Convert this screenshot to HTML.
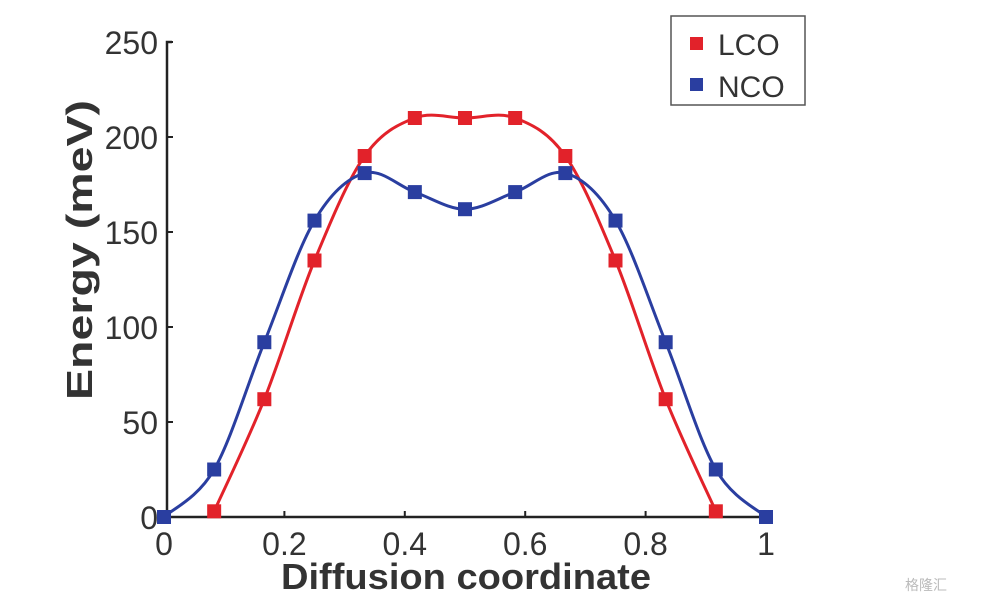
<!DOCTYPE html>
<html><head><meta charset="utf-8"><style>
body{margin:0;background:#fff;}
svg text{font-family:"Liberation Sans",Arial,sans-serif;}
</style></head><body>
<svg width="983" height="604" viewBox="0 0 983 604">
<g id="plot"></g>
<text x="92" y="250" transform="rotate(-90 92 250)" text-anchor="middle" font-size="36" font-weight="bold" fill="#333" textLength="300" lengthAdjust="spacingAndGlyphs">Energy (meV)</text>
<text x="466" y="589" text-anchor="middle" font-size="36" font-weight="bold" fill="#333" textLength="370" lengthAdjust="spacingAndGlyphs">Diffusion coordinate</text>
<g>
<rect x="671" y="16" width="134" height="89" fill="#fff" stroke="#555" stroke-width="1.5"/>
<rect x="690" y="37" width="13" height="13" fill="#e2222a"/>
<text x="718" y="55" font-size="30" fill="#333">LCO</text>
<rect x="690" y="78" width="13" height="13" fill="#2a3ea0"/>
<text x="718" y="97" font-size="30" fill="#333">NCO</text>
</g>
<text x="905" y="590" font-size="14" fill="#bbb">格隆汇</text>
</svg>
<script>
const xTicks=[0,0.2,0.4,0.6,0.8,1];
const xTickLabels=["0","0.2","0.4","0.6","0.8","1"];
const yTicks=[0,50,100,150,200,250];
const yTickLabels=["0","50","100","150","200","250"];
const lcoX=[1/12,2/12,3/12,4/12,5/12,6/12,7/12,8/12,9/12,10/12,11/12];
const lcoY=[3,62,135,190,210,210,210,190,135,62,3];
const ncoX=[0,1/12,2/12,3/12,4/12,5/12,6/12,7/12,8/12,9/12,10/12,11/12,1];
const ncoY=[0,25,92,156,181,171,162,171,181,156,92,25,0];
const X0=164,XS=602,Y0=517,YS=475/250;
const sx=v=>X0+v*XS, sy=v=>Y0-v*YS;
const NS="http://www.w3.org/2000/svg";
const g=document.getElementById('plot');
function mk(t,a){const e=document.createElementNS(NS,t);for(const k in a)e.setAttribute(k,a[k]);g.appendChild(e);return e;}
let ax=mk('path',{d:`M${sx(0)} ${sy(0)}H${sx(1)}`,stroke:'#222','stroke-width':2.5,fill:'none'});


let ay=mk('path',{d:`M${sx(0)+3} ${sy(0)}V${sy(250)}h5`,stroke:'#222','stroke-width':2.5,fill:'none'});


xTicks.forEach((v,i)=>{
 let t=mk('line',{x1:sx(v),x2:sx(v),y1:sy(0),y2:sy(0)-6,stroke:'#222','stroke-width':2});
 
 
 let l=mk('text',{x:sx(v),y:sy(0)+38,'text-anchor':'middle','font-size':32,fill:'#333'});
 l.textContent=xTickLabels[i];
 
 
});
yTicks.forEach((v,i)=>{
 let t=mk('line',{x1:sx(0)+3,x2:sx(0)+9,y1:sy(v),y2:sy(v),stroke:'#222','stroke-width':2});
 
 
 let l=mk('text',{x:sx(0)-6,y:sy(v)+12,'text-anchor':'end','font-size':32,fill:'#333'});
 l.textContent=yTickLabels[i];
 
 
});
function spline(xs,ys){
 const p=xs.map((x,i)=>[sx(x),sy(ys[i])]);
 let d=`M${p[0][0]} ${p[0][1]}`;
 for(let i=0;i<p.length-1;i++){
  const a=p[i-1]||p[i],b=p[i],c=p[i+1],e=p[i+2]||c;
  d+=`C${b[0]+(c[0]-a[0])/6} ${b[1]+(c[1]-a[1])/6} ${c[0]-(e[0]-b[0])/6} ${c[1]-(e[1]-b[1])/6} ${c[0]} ${c[1]}`;
 }
 return d;
}
function series(xs,ys,col,name){
 let l=mk('path',{d:spline(xs,ys),stroke:col,'stroke-width':3,fill:'none'});
 
 
 xs.forEach((x,i)=>{
  let r=mk('rect',{x:sx(x)-7,y:sy(ys[i])-7,width:14,height:14,fill:col});
  
  
 });
}
series(lcoX,lcoY,'#e2222a','lco');
series(ncoX,ncoY,'#2a3ea0','nco');
</script>
</body></html>
